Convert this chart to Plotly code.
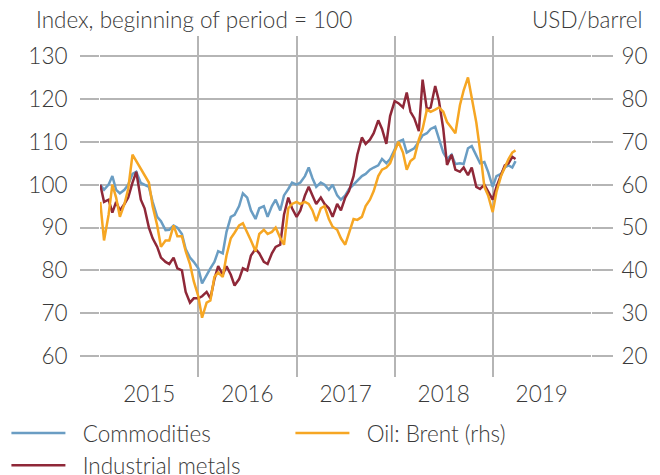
import plotly.graph_objects as go

dates = [
    "2015-01-01", "2015-01-15", "2015-02-01", "2015-02-15", "2015-03-01", "2015-03-15",
    "2015-04-01", "2015-04-15", "2015-05-01", "2015-05-15", "2015-06-01", "2015-06-15",
    "2015-07-01", "2015-07-15", "2015-08-01", "2015-08-15", "2015-09-01", "2015-09-15",
    "2015-10-01", "2015-10-15", "2015-11-01", "2015-11-15", "2015-12-01", "2015-12-15",
    "2016-01-01", "2016-01-15", "2016-02-01", "2016-02-15", "2016-03-01", "2016-03-15",
    "2016-04-01", "2016-04-15", "2016-05-01", "2016-05-15", "2016-06-01", "2016-06-15",
    "2016-07-01", "2016-07-15", "2016-08-01", "2016-08-15", "2016-09-01", "2016-09-15",
    "2016-10-01", "2016-10-15", "2016-11-01", "2016-11-15", "2016-12-01", "2016-12-15",
    "2017-01-01", "2017-01-15", "2017-02-01", "2017-02-15", "2017-03-01", "2017-03-15",
    "2017-04-01", "2017-04-15", "2017-05-01", "2017-05-15", "2017-06-01", "2017-06-15",
    "2017-07-01", "2017-07-15", "2017-08-01", "2017-08-15", "2017-09-01", "2017-09-15",
    "2017-10-01", "2017-10-15", "2017-11-01", "2017-11-15", "2017-12-01", "2017-12-15",
    "2018-01-01", "2018-01-15", "2018-02-01", "2018-02-15", "2018-03-01", "2018-03-15",
    "2018-04-01", "2018-04-15", "2018-05-01", "2018-05-15", "2018-06-01", "2018-06-15",
    "2018-07-01", "2018-07-15", "2018-08-01", "2018-08-15", "2018-09-01", "2018-09-15",
    "2018-10-01", "2018-10-15", "2018-11-01", "2018-11-15", "2018-12-01", "2018-12-15",
    "2019-01-01", "2019-01-15", "2019-02-01", "2019-02-15", "2019-03-01", "2019-03-15",
    "2019-03-27",
]

commodities = [
    100, 98.8, 100, 102, 98.8, 98, 98.8, 100, 102.5, 103, 100.4, 100,
    99.5, 96, 92.5, 91.5, 89.4, 89.5, 90.5, 90, 88.5, 85, 83, 82,
    80.5, 77, 79, 80.5, 82, 84.5, 84, 89, 92.5, 93, 95, 98,
    97, 94, 92, 94.5, 95, 92.5, 95, 96.5, 94, 97.5, 99, 100.5,
    100, 100.5, 102, 104, 101.5, 99.5, 100.5, 100, 98.8, 100, 97.5, 96.5,
    97.5, 99, 100, 101, 102, 102.5, 103.5, 104, 104.5, 106, 105, 106,
    108, 110, 110.5, 107.5, 108, 108.5, 110, 111.5, 112, 113, 113.5, 110.5,
    107.5, 106, 107, 104.8, 105, 104.8, 108.5, 109, 107, 105, 105.3, 103,
    99.5, 102, 102.5, 104, 104.5, 104, 105.5,
]

industrial_metals = [
    100, 96, 96.5, 93.5, 96, 94, 95.5, 97, 100.5, 103, 96.5, 94.5,
    90, 87.5, 85.5, 83, 82, 81.5, 83, 80.5, 80, 75, 72.5, 73.5,
    73.5, 74, 75, 73.5, 78, 81, 79, 81, 79, 76.5, 78, 80.5,
    80, 83.5, 85, 84, 82, 81.5, 84, 85.5, 86, 93, 97, 94.5,
    92.5, 94, 97.5, 99.5, 97.5, 95.5, 97, 95.5, 94.5, 92.5, 95.5, 94,
    97, 98.5, 102, 107, 111, 109.5, 110.5, 112, 115, 113, 109.5, 116,
    119.5, 119, 118, 121.5, 117, 115.5, 112.5, 124.5, 117.5, 118, 123, 119.5,
    113, 104.6, 107, 103.5, 103, 104, 102.2, 104, 99.5, 99, 100, 98.5,
    96.5, 99.5, 102.5, 104.5, 105, 106.5, 106,
]

oil_brent = [
    56, 47, 53, 60, 57, 52.5, 55.5, 59, 67, 65.5, 64, 62.5,
    60.5, 55, 50.5, 45.5, 47, 47, 50.5, 48, 48, 44.5, 41.5, 37.5,
    34, 29, 32.5, 33, 38.5, 39.5, 38.5, 43.5, 47.5, 48.8, 50.5, 51,
    49, 47, 44.5, 48.5, 49.5, 48.5, 49, 50, 47.6, 46, 54.5, 55.5,
    56, 55.5, 56, 55.5, 54, 51.5, 54.5, 55, 52, 50.2, 49.5, 47.5,
    46, 48.5, 52, 51.8, 52.5, 55, 56.5, 58.5, 62, 63.5, 64, 65,
    67.5, 70, 67.5, 63.5, 65.5, 66.2, 70.5, 73, 77.5, 77, 77.5, 78,
    77, 74.6, 73.2, 72, 78.5, 82, 85, 80.5, 74.5, 68, 59.5, 57.5,
    53.6, 58.3, 62, 64, 66, 67.5, 68,
]

series_names = ["Commodities", "Industrial metals", "Oil: Brent (rhs)"]
left_ticks = [60, 70, 80, 90, 100, 110, 120, 130]
right_ticks = [20, 30, 40, 50, 60, 70, 80, 90]

FONT = "Lato"
TXT = "#3a3a3a"
GRID = "#b5b5b5"
FS = 22.5
FW = 300
PAD = "\u00a0\u00a0"

fig = go.Figure()
fig.add_trace(go.Scatter(x=dates, y=commodities, name=PAD + series_names[0], mode="lines",
                         line=dict(color="#6A9DC3", width=2.5), legendrank=1))
fig.add_trace(go.Scatter(x=dates, y=industrial_metals, name=PAD + series_names[1], mode="lines",
                         line=dict(color="#8F2838", width=2.5), legendrank=3))
fig.add_trace(go.Scatter(x=dates, y=oil_brent, name=PAD + series_names[2], mode="lines",
                         line=dict(color="#F6A623", width=2.5), yaxis="y2", legendrank=2))

fnt = dict(family=FONT, size=FS, color=TXT, weight=FW)

fig.update_layout(
    width=652, height=467,
    margin=dict(l=92, r=69, t=28, b=98, autoexpand=False),
    paper_bgcolor="white", plot_bgcolor="white",
    font=fnt,
    xaxis=dict(
        type="date", range=["2014-12-31", "2020-01-02"],
        tick0="2015-01-01", dtick="M12", tickformat="%Y", ticklabelmode="period",
        showgrid=True, gridcolor=GRID, gridwidth=1.5, ticks="", zeroline=False,
        showline=False, ticklabelstandoff=1, tickfont=fnt,
    ),
    yaxis=dict(
        range=[55.17, 134.66], tickvals=left_ticks, showgrid=True, gridcolor=GRID,
        gridwidth=1.5, ticks="outside", ticklen=19, tickcolor=GRID, tickwidth=1.5,
        zeroline=False, showline=False, ticklabelstandoff=8, tickfont=fnt,
    ),
    yaxis2=dict(
        range=[15.17, 94.66], tickvals=right_ticks, overlaying="y", side="right",
        showgrid=False, ticks="outside", ticklen=21, tickcolor=GRID, tickwidth=1.5,
        zeroline=False, showline=False, ticklabelstandoff=4, tickfont=fnt,
    ),
    legend=dict(
        orientation="h", x=-0.1906, xanchor="left", y=-0.102, yanchor="top",
        entrywidth=215, entrywidthmode="pixels", itemwidth=54,
        font=fnt, tracegroupgap=0,
        bgcolor="rgba(0,0,0,0)",
    ),
    annotations=[
        dict(text="Index, beginning of period = 100", xref="paper", yref="paper",
             x=-0.133, y=1.0, xanchor="left", yanchor="bottom", yshift=2, borderpad=0,
             showarrow=False, font=fnt),
        dict(text="USD/barrel", xref="paper", yref="paper",
             x=1.106, y=1.0, xanchor="right", yanchor="bottom", yshift=2, borderpad=0,
             showarrow=False, font=fnt),
    ],
)

fig.write_html("out.html")
